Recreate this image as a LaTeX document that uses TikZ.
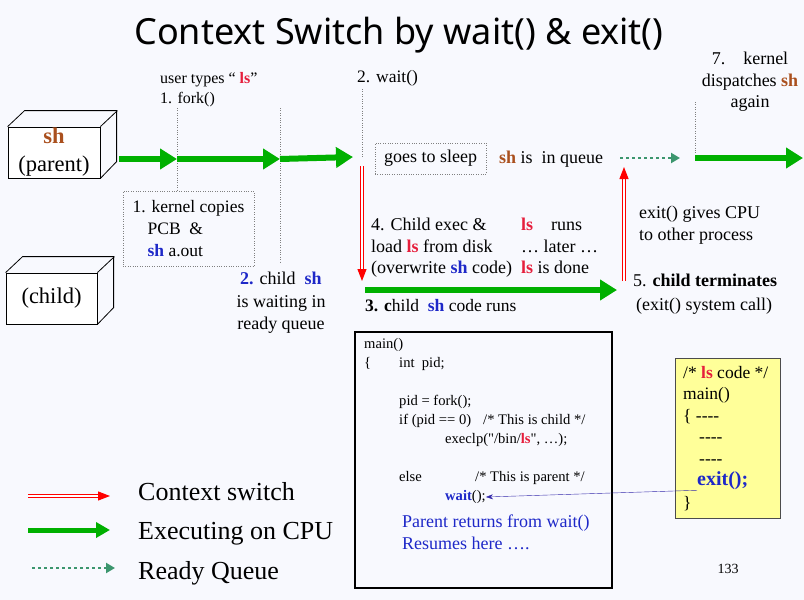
\documentclass[tikz,border=0pt]{standalone}
\usepackage{fontspec}
\setmainfont{Liberation Serif}
\newfontfamily\titlefont{Noto Sans}
\usetikzlibrary{arrows.meta}

\definecolor{shbrown}{RGB}{170,80,30}
\definecolor{lsred}{RGB}{230,30,60}
\definecolor{shblue}{RGB}{30,40,200}
\definecolor{cpugreen}{RGB}{0,176,0}
\definecolor{queuegreen}{RGB}{60,150,110}
\definecolor{codeyellow}{RGB}{255,255,153}
\definecolor{bgpaper}{RGB}{248,249,254}
\definecolor{callblue}{RGB}{50,40,170}

\newcommand{\shb}{\textcolor{shbrown}{\textbf{sh}}}
\newcommand{\shc}{\textcolor{shblue}{\textbf{sh}}}
\newcommand{\lsr}{\textcolor{lsred}{\textbf{ls}}}
\newcommand{\blank}{-{}-{}-{}-}

\tikzset{
  txt/.style={inner sep=0pt, font=\fontsize{18}{21.5}\selectfont, align=left},
  cpu/.style={draw=cpugreen, line width=6pt, -{Triangle[length=17pt,width=20pt]}},
  ctx/.style={draw=red, double=white, double distance=1.6pt, line width=1.1pt, -{Triangle[length=12pt,width=9pt]}},
  queue/.style={draw=queuegreen, line width=2.5pt, dash pattern=on 2.5pt off 3.5pt, -{Triangle[length=9pt,width=10pt]}},
  tick/.style={draw=gray, dotted, thin},
  proc/.style={draw, thick, fill=white, inner sep=0pt, font=\fontsize{22.5}{28}\selectfont, align=center},
  note/.style={draw=gray, dotted, thin, inner sep=0pt, font=\fontsize{17.5}{22}\selectfont, align=left},
}

\begin{document}
\begin{tikzpicture}[x=1pt,y=-1pt]
  \fill[bgpaper] (0,0) rectangle (804,600);
  \useasboundingbox (0,0) rectangle (804,600);

  % title
  \node[inner sep=0pt, font=\titlefont\fontsize{36}{40}\selectfont] (title) at (399,35) {Context Switch by wait() \& exit()};

  % processes
  \node[proc, minimum width=92pt, minimum height=51pt] (parent) at (54,152.5) {\shb\\(parent)};
  \draw[thick] (parent.north west) -- ++(17,-16) -- ++(92,0) -- ++(0,51) -- (parent.south east);
  \draw[thick] (parent.north east) -- ++(17,-16);
  \node[proc, minimum width=91pt, minimum height=51pt] (child) at (51.5,298.5) {(child)};
  \draw[thick] (child.north west) -- ++(17,-16) -- ++(91,0) -- ++(0,51) -- (child.south east);
  \draw[thick] (child.north east) -- ++(17,-16);

  % labels
  \node[txt, anchor=west, font=\fontsize{16}{20}\selectfont] (types) at (160,90) {user types `` \lsr''\\1. fork()};
  \node[txt, anchor=west, font=\fontsize{17.5}{21}\selectfont] (wait) at (357,78) {2. wait()};
  \node[txt, align=center] (dispatch) at (750,82) {7.\quad kernel\\dispatches \shb\\again};
  \node[note, minimum width=131pt, minimum height=75pt] (kernel) at (188.5,228.5) {1. kernel copies\\\hspace*{15pt}PCB \ \&\\\hspace*{15pt}\shc\ a.out};
  \node[note, minimum width=111pt, minimum height=31pt, font=\fontsize{18}{21}\selectfont] (sleep) at (430.5,158.5) {goes to sleep};
  \node[txt, anchor=west] (inqueue) at (499,159) {\shb\ is\ \ in queue};
  \node[txt, align=center, font=\fontsize{18}{22.5}\selectfont] (ready) at (281,303) {\textcolor{shblue}{\textbf{2.}} child \ \shc\\is waiting in\\ready queue};
  \node[txt, anchor=west] (exec) at (371,248) {4. Child exec \&\\load \lsr\ from disk\\(overwrite \shc\ code)};
  \node[txt, anchor=west] (lsruns) at (521,246) {\lsr\quad runs\\\ldots\ later \ldots\\\lsr\ is done};
  \node[txt, anchor=west, font=\fontsize{17.5}{21}\selectfont] (runs) at (365,306) {\textbf{3. c}hild\ \ \shc\ code runs};
  \node[txt, anchor=west] (gives) at (639,225) {exit() gives CPU\\to other process};
  \node[txt, anchor=west] (term) at (633,280) {5. \textbf{child terminates}};
  \node[txt, anchor=west] (syscall) at (636,306) {(exit() system call)};

  % timeline
  \coordinate (p0) at (119,159);
  \coordinate (p1) at (177,159);
  \coordinate (p2) at (280,159);
  \coordinate (p3) at (353,157);
  \coordinate (w0) at (362,166);
  \coordinate (w1) at (362,281);
  \coordinate (c0) at (365,290);
  \coordinate (c1) at (617,290);
  \coordinate (e0) at (624,281);
  \coordinate (e1) at (624,167);
  \coordinate (q0) at (620,158);
  \coordinate (q1) at (680,158);
  \coordinate (d0) at (695,158);
  \coordinate (d1) at (803,158);

  \draw[tick] (177,108) -- (p1 |- kernel.north);
  \draw[tick] (280,108) -- (280,262);
  \draw[tick] (362,89) -- (362,157);
  \draw[tick] (695,102) -- (d0);

  \draw[cpu] (p0) -- (p1);
  \draw[cpu] (p1) -- (p2);
  \draw[cpu] (p2) -- (p3);
  \draw[ctx] (w0) -- (w1);
  \draw[cpu] (c0) -- (c1);
  \draw[ctx] (e0) -- (e1);
  \draw[queue] (q0) -- (q1);
  \draw[cpu] (d0) -- (d1);

  % parent code
  \node[draw, line width=2pt, minimum width=257pt, minimum height=256pt] (code) at (483.5,460) {};
  \node[txt, anchor=north west, font=\fontsize{14.6}{19}\selectfont] (src) at (364,338) {main()\\
    \makebox[35pt][l]{\{}int\ \ pid;\\[19pt]
    \hspace*{35pt}pid = fork();\\
    \hspace*{35pt}\makebox[84pt][l]{if (pid == 0)}/* This is child */\\
    \hspace*{81pt}execlp(\textquotedbl/bin/\lsr\textquotedbl, \ldots);\\[19pt]
    \hspace*{35pt}\makebox[76pt][l]{else}/* This is parent */};
  \node[txt, anchor=west, font=\fontsize{14.6}{19}\selectfont] (waitcall) at (445,497) {\textcolor{shblue}{\textbf{wait}}();};
  \node[txt, anchor=west, text=shblue, font=\fontsize{18}{22}\selectfont] (resume) at (402,532) {Parent returns from wait()\\Resumes here \ldots.};

  % ls code
  \node[draw=gray!60!black, fill=codeyellow, minimum width=105pt, minimum height=160pt] (ls) at (727.5,438) {};
  \node[txt, anchor=north west, font=\fontsize{17.5}{21.5}\selectfont] (lssrc) at (683,366) {/* \lsr\ code */\\main()\\\{ \blank\\\hspace*{16pt}\blank\\\hspace*{16pt}\blank};
  \node[txt, anchor=west, text=shblue, font=\bfseries\fontsize{20}{22}\selectfont] (exitcall) at (697,481) {exit();};
  \node[txt, anchor=west, font=\fontsize{17.5}{21}\selectfont] (lsend) at (683,504) {\}};
  \draw[callblue, -{Stealth[length=7pt,width=5pt]}] (exitcall.south west) -- (waitcall.east);

  % legend
  \coordinate (lg1a) at (28,496);
  \coordinate (lg1b) at (110,496);
  \coordinate (lg2a) at (28,530);
  \coordinate (lg2b) at (110,530);
  \coordinate (lg3a) at (32,568);
  \coordinate (lg3b) at (115,568);
  \draw[ctx] (lg1a) -- (lg1b);
  \draw[cpu, line width=5pt, -{Triangle[length=14pt,width=15pt]}] (lg2a) -- (lg2b);
  \draw[queue] (lg3a) -- (lg3b);
  \node[txt, anchor=west, font=\fontsize{26}{28}\selectfont] (lgctx) at (138,492) {Context switch};
  \node[txt, anchor=west, font=\fontsize{26}{28}\selectfont] (lgcpu) at (138,534) {Executing on CPU};
  \node[txt, anchor=west, font=\fontsize{26}{28}\selectfont] (lgqueue) at (138,573) {Ready Queue};

  \node[txt, font=\fontsize{14}{16}\selectfont] (page) at (728,569) {133};
\end{tikzpicture}
\end{document}
